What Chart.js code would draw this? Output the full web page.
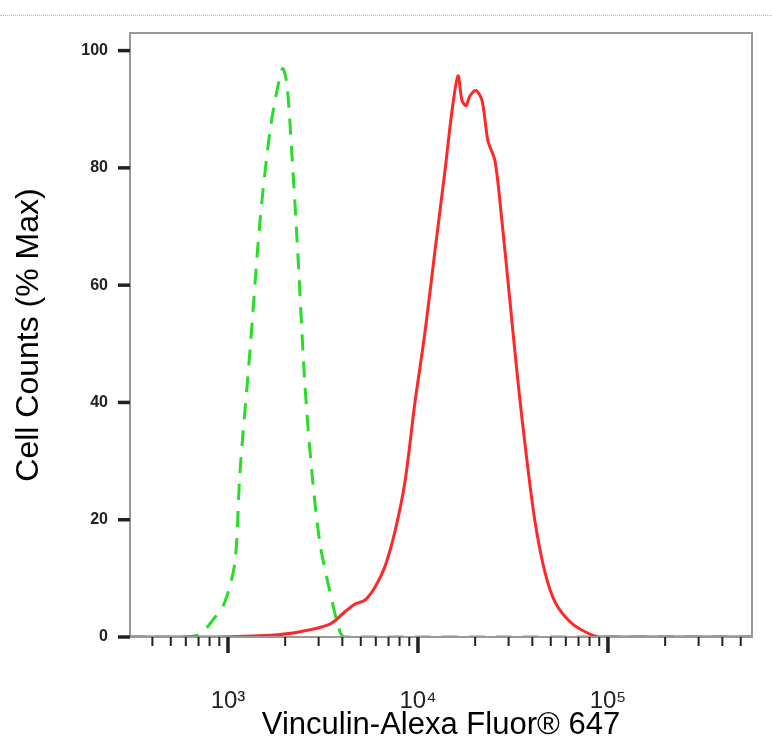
<!DOCTYPE html>
<html><head><meta charset="utf-8">
<script src="https://cdn.jsdelivr.net/npm/chart.js@4/dist/chart.umd.min.js"></script>
<style>body{margin:0;background:#fff}#top{position:absolute;left:0;top:15px;width:772px;border-top:1px dotted #bbb}</style>
</head><body><div id="top"></div><canvas id="c" width="772" height="748"></canvas>
<script>
const isoX=[300,594,713,855,964,1088,1156,1305,1474,1664,1833,1946,2046,2173,2335,2541,2767,3048,3443,3884,4127,10000,573000];
const isoY=[0,0,0.5,3.4,6,12.8,28,48.7,70.9,86.3,94,97,94,82,65,43,28,16,7.7,0.9,0,0,0];
const redX=[305,855,1664,2393,3443,4127,4656,5260,5937,6700,7570,8544,9640,10890,12280,13870,15100,16250,17050,17900,18790,20190,21730,23350,25420,27670,30480,33590,36980,41300,46560,52600,63100,75700,90800,573000];
const redY=[0,0,0.3,0.9,2.2,4.3,5.6,6.3,8.5,12,18,26.5,40,52,65.8,79.5,89.7,95.7,91.5,90.6,92.3,93.2,91.5,84.6,81.2,70.9,57.3,43.6,31.6,19.7,11.1,6,2.6,0.9,0,0];
const yTicks=[0,20,40,60,80,100];
const xMajor=[1000,10000,100000];
const xLabels={1000:'10³',10000:'10⁴',100000:'10⁵'};
const xMin=305,xMax=573000;
function minorTicks(){const t=[];for(let d=100;d<=1e6;d*=10)for(let k=1;k<10;k++){const v=d*k;if(v>=xMin&&v<=xMax)t.push(v);}return t;}
const tickPlugin={id:'tk',afterDraw(ch){const c=ch.ctx,a=ch.chartArea,xs=ch.scales.x,ys=ch.scales.y;
c.save();c.strokeStyle='#999';c.lineWidth=2;c.strokeRect(a.left,a.top,a.right-a.left,a.bottom-a.top);
c.strokeStyle='#222';
minorTicks().forEach(v=>{const p=xs.getPixelForValue(v);const maj=xMajor.includes(v);c.lineWidth=maj?3.5:2;c.beginPath();c.moveTo(p,a.bottom);c.lineTo(p,a.bottom+(maj?16:9));c.stroke();});
yTicks.forEach(v=>{const p=ys.getPixelForValue(v);c.lineWidth=3.5;c.beginPath();c.moveTo(a.left-12,p);c.lineTo(a.left,p);c.stroke();});
c.restore();}};
new Chart(document.getElementById('c'),{type:'scatter',
data:{datasets:[
{data:redX.map((x,i)=>({x,y:redY[i]})),showLine:true,borderColor:'rgb(255,40,40)',borderWidth:3,pointRadius:0,tension:0.3},
{data:isoX.map((x,i)=>({x,y:isoY[i]})),showLine:true,borderColor:'rgb(40,220,40)',borderWidth:3,borderDash:[16,11],pointRadius:0,tension:0.3}
]},
options:{responsive:false,animation:false,layout:{padding:{top:33,right:20,left:0,bottom:0}},
plugins:{legend:{display:false},tooltip:{enabled:false}},
scales:{
x:{type:'logarithmic',min:xMin,max:xMax,afterFit(s){s.height=111;},
afterBuildTicks(s){s.ticks=xMajor.map(v=>({value:v}));},
grid:{display:false,drawTicks:false},border:{display:false},
ticks:{autoSkip:false,maxRotation:0,padding:50,color:'#222',font:{family:'Liberation Sans',size:24},callback:v=>xLabels[v]||''},
title:{display:true,text:'Vinculin-Alexa Fluor® 647',color:'#000',font:{family:'Liberation Sans',size:31},padding:{top:0}}},
y:{min:0,max:103,afterFit(s){s.width=130;},afterBuildTicks(s){s.ticks=yTicks.map(v=>({value:v}));},
grid:{display:false,drawTicks:false},border:{display:false},
ticks:{padding:22,color:'#222',font:{family:'Liberation Sans',size:16,weight:'bold'}},
title:{display:true,text:'Cell Counts (% Max)',color:'#000',font:{family:'Liberation Sans',size:32},padding:{bottom:0,top:10}}}
}},plugins:[tickPlugin]});
</script></body></html>
